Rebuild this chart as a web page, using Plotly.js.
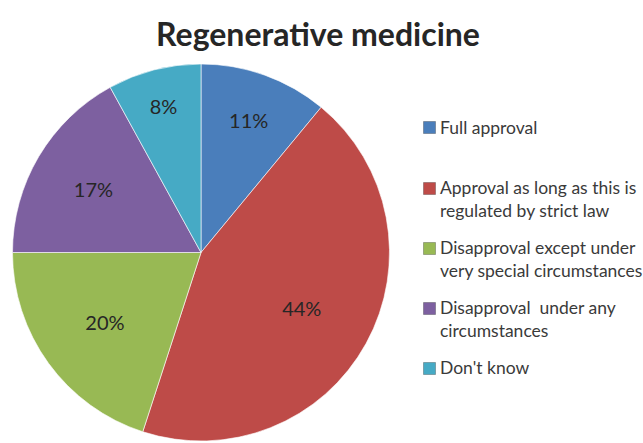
<!DOCTYPE html>
<html>
<head>
<meta charset="utf-8">
<script src="https://cdn.plot.ly/plotly-3.0.1.min.js"></script>
<style>html,body{margin:0;padding:0;background:#fff;}#chart{width:643px;height:443px;}</style>
</head>
<body>
<div id="chart"></div>
<script>
const labels = [
  "Full approval",
  "Approval as long as this is<br>regulated by strict law",
  "Disapproval except under<br>very special circumstances",
  "Disapproval  under any<br>circumstances",
  "Don't know"
];
const values = [11, 44, 20, 17, 8];
const colors = ["#4a7ebb", "#be4b48", "#98b954", "#7d60a0", "#46aac5"];

const W = 643, H = 443;
const FONT = "Lato, 'Open Sans', sans-serif";
const pieDomain = {x: [8 / W, 394 / W], y: [2 / H, 1 - 64 / H]};

const slices = {
  type: "pie",
  labels: labels,
  values: values,
  sort: false,
  direction: "clockwise",
  rotation: 0,
  marker: {colors: colors, line: {color: "rgba(255,255,255,0.6)", width: 1}},
  textinfo: "none",
  domain: pieDomain,
  showlegend: false,
  hoverinfo: "label+percent"
};

// transparent ring, used only to place the percentage labels further out
const pctLabels = {
  type: "pie",
  labels: labels,
  values: values,
  sort: false,
  direction: "clockwise",
  rotation: 0,
  hole: 0.22,
  marker: {colors: values.map(() => "rgba(0,0,0,0)"), line: {width: 0}},
  textinfo: "percent",
  texttemplate: "%{percent:.0%}",
  textposition: "inside",
  insidetextorientation: "horizontal",
  textfont: {family: FONT, size: 20, color: "#262626"},
  domain: pieDomain,
  showlegend: false,
  hoverinfo: "skip"
};

// legend built from the category list
const annotations = [];
labels.forEach((lab, i) => {
  const yc = 128 + 60 * i;
  annotations.push({
    xref: "paper", yref: "paper",
    x: 429 / W, y: 1 - yc / H, xanchor: "center", yanchor: "middle",
    text: " ", width: 11, height: 11, borderpad: 0,
    bgcolor: colors[i], bordercolor: "rgba(0,0,0,0.25)", borderwidth: 1,
    showarrow: false
  });
  annotations.push({
    xref: "paper", yref: "paper",
    x: 439 / W, y: 1 - (yc - 12) / H, xanchor: "left", yanchor: "top",
    align: "left", text: lab, borderpad: 0,
    font: {family: FONT, size: 17.5, color: "#3a3a3a"},
    showarrow: false
  });
});

const layout = {
  width: W, height: H,
  margin: {l: 0, r: 0, t: 0, b: 0},
  paper_bgcolor: "#ffffff",
  title: {
    text: "<b>Regenerative medicine</b>",
    font: {family: FONT, size: 32, color: "#262626"},
    x: 318 / W, xanchor: "center",
    y: 1 - 35 / H, yanchor: "middle"
  },
  showlegend: false,
  annotations: annotations
};

Plotly.newPlot("chart", [slices, pctLabels], layout, {displayModeBar: false, staticPlot: true});
</script>
</body>
</html>
